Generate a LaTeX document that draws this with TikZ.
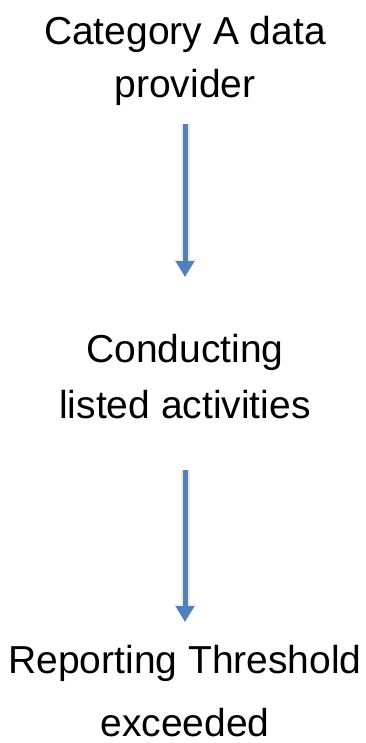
\documentclass[tikz,border=0pt]{standalone}
\usepackage{fontspec}
\setmainfont{Liberation Sans}
\usetikzlibrary{arrows.meta}
\definecolor{arrowblue}{HTML}{4F81BD}
\tikzset{
  label text/.style={align=center, inner sep=0pt, anchor=base, text=black},
  flowarrow/.style={draw=arrowblue, line width=5pt, -{Triangle[width=18pt,length=16pt]}},
  flowshadow/.style={draw=black!8, line width=9pt, -{Triangle[width=22pt,length=18pt]}}
}
\begin{document}
\begin{tikzpicture}[x=1pt,y=1pt]
  \useasboundingbox (0,0) rectangle (366,-743);
  \node[label text, font=\fontsize{39}{53}\selectfont] (top) at (185,-98) {Category A data\\provider};
  \node[label text, font=\fontsize{39}{56}\selectfont] (mid) at (185,-418) {Conducting\\listed activities};
  \node[label text, font=\fontsize{39}{63}\selectfont] (bot) at (185,-736) {Reporting Threshold\\exceeded};
  \coordinate (a1s) at (185,-124);
  \coordinate (a1e) at (185,-277);
  \coordinate (a2s) at (185,-470);
  \coordinate (a2e) at (185,-622);
  \begin{scope}[xshift=-1pt,yshift=-1pt]
    \draw[flowshadow] (a1s) -- (a1e);
    \draw[flowshadow] (a2s) -- (a2e);
  \end{scope}
  \draw[flowarrow] (a1s) -- (a1e);
  \draw[flowarrow] (a2s) -- (a2e);
\end{tikzpicture}
\end{document}
